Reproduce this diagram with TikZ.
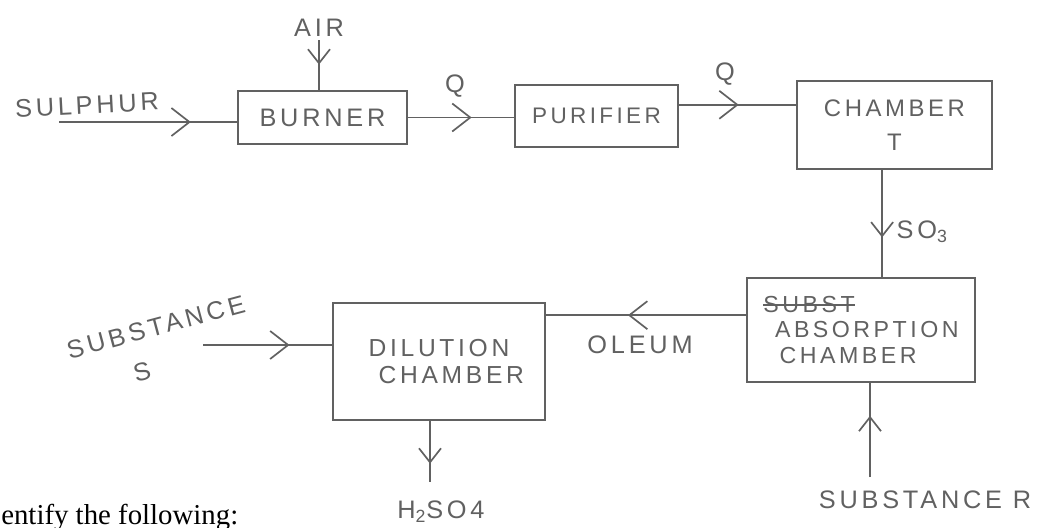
\documentclass[tikz,border=0pt]{standalone}
\usepackage{fontspec}
\setmainfont{Liberation Serif}
\newfontfamily\handfont[LetterSpace=15]{Liberation Sans}
\usetikzlibrary{arrows.meta,positioning,calc,decorations.markings}
\colorlet{pen}{black!62}
\newcommand{\struckword}[1]{\setbox0\hbox{#1}\rlap{\raisebox{0.3em}{\rule{\wd0}{1.2pt}}}\box0}

\begin{document}
\begin{tikzpicture}[x=0.025cm, y=-0.025cm,
  unit/.style={draw=pen, line width=1.2pt, align=center, inner sep=2pt, text=pen, font=\handfont\fontsize{18}{24}\selectfont},
  lbl/.style={text=pen, inner sep=1pt, font=\handfont\fontsize{18}{22}\selectfont},
  flow/.style={draw=pen, line width=1.2pt, postaction={decorate},
    decoration={markings, mark=at position #1 with {\arrow{Straight Barb[length=4.5mm, width=7mm]}}}},
  flowsm/.style={draw=pen, line width=1.2pt, postaction={decorate},
    decoration={markings, mark=at position #1 with {\arrow{Straight Barb[length=3.5mm, width=5.5mm]}}}}]
  \fill[white] (0,0) rectangle (1046,527);
  \useasboundingbox (0,0) rectangle (1046,527);
  \node[unit, minimum width=4.225cm, minimum height=1.325cm] (burner) at (322.5,117.5) {BURNER};
  \node[unit, minimum width=4.075cm, minimum height=1.55cm, font=\handfont\fontsize{16}{20}\selectfont] (purifier) at (596.5,116) {PURIFIER};
  \node[unit, minimum width=4.875cm, minimum height=2.2cm, font=\handfont\fontsize{17}{24}\selectfont] (chamber) at (894.5,125) {CHAMBER\\T};
  \node[unit, minimum width=5.7cm, minimum height=2.6cm, align=left, font=\handfont\fontsize{16.5}{18}\selectfont] (absorb) at (861,330) {\struckword{SUBST}\\\hspace{0.5em}ABSORPTION\\\hspace{0.7em}CHAMBER};
  \node[unit, minimum width=5.3cm, minimum height=2.925cm, font=\handfont\fontsize{17.5}{19}\selectfont] (dilution) at (439,361.5) {DILUTION\\\hspace{1em}CHAMBER};
  \node[lbl, rotate=3] (sulphur) at (87,105) {SULPHUR};
  \coordinate (airIn) at (319,40);
  \node[lbl, above=1pt of airIn] (air) {AIR};
  \node[lbl] (q1) at (455,86) {Q};
  \node[lbl] (q2) at (725,74) {Q};
  \node[lbl, anchor=west] (so3) at (895,232) {SO\textsubscript{3}};
  \node[lbl] (oleum) at (640,345) {OLEUM};
  \node[lbl, rotate=15, align=center, font=\handfont\fontsize{18}{28}\selectfont] (substS) at (161,346) {SUBSTANCE\\S\hspace*{1.25cm}};
  \node[lbl] (acid) at (441,512) {H\textsubscript{2}SO4};
  \node[lbl] (substR) at (925,500) {SUBSTANCE R};
  \node[anchor=base west, inner sep=0pt, font=\fontsize{20.5}{24}\selectfont] (task) at (1,524) {entify the following:};
  \coordinate (sulIn) at (59,122);
  \coordinate (sIn) at (203,345);
  \coordinate (acidOut) at (430,482);
  \coordinate (rIn) at (870,477);
  \draw[flow=.74] (sulIn) -- (sulIn -| burner.west);
  \draw[flowsm=.49] (airIn) -- (airIn |- burner.north);
  \draw[flow=.6] (burner.east) -- (burner.east -| purifier.west);
  \draw[flow=.51] ([yshift=2.8mm]purifier.east) -- ([yshift=2.8mm]purifier.east -| chamber.west);
  \draw[flowsm=.63] ([xshift=-3.1mm]chamber.south) -- ([xshift=-3.1mm]chamber.south |- absorb.north);
  \draw[flow=.59] ([yshift=3.7mm]absorb.west) -- ([yshift=3.7mm]absorb.west -| dilution.east);
  \draw[flow=.67] (sIn) -- (sIn -| dilution.west);
  \draw[flowsm=.7] (acidOut |- dilution.south) -- (acidOut);
  \draw[flowsm=.65] (rIn) -- (rIn |- absorb.south);
\end{tikzpicture}
\end{document}
